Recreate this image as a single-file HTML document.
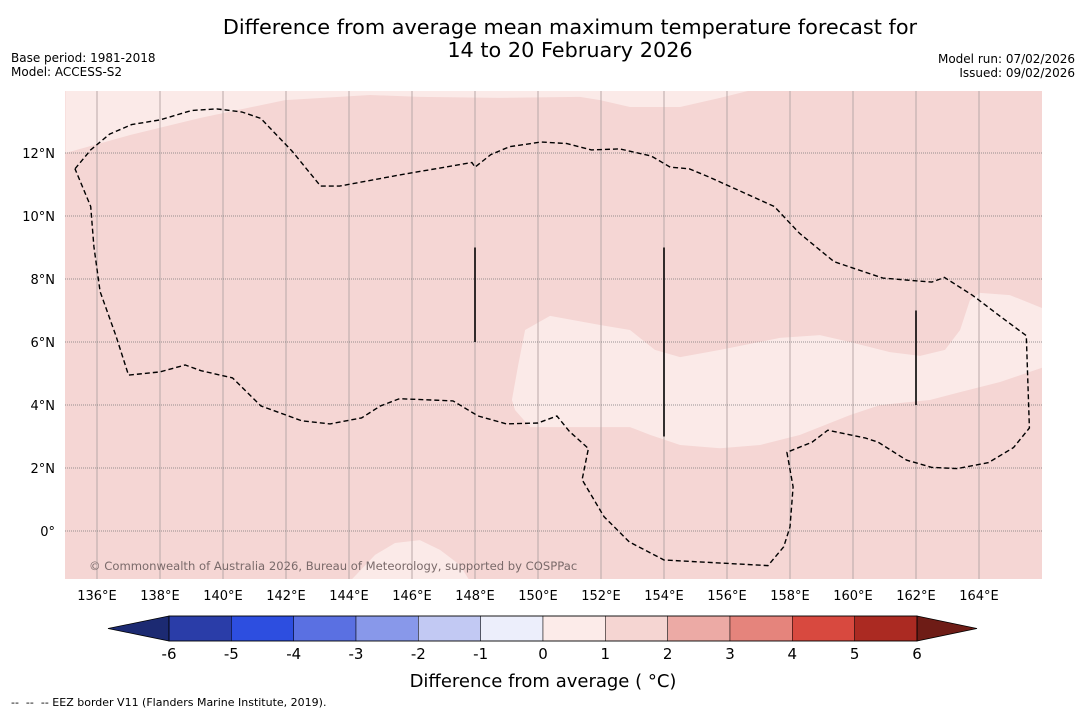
<!DOCTYPE html>
<html><head><meta charset="utf-8">
<style>
html,body{margin:0;padding:0;background:#fff;width:1085px;height:713px;overflow:hidden;font-family:"DejaVu Sans","Liberation Sans",sans-serif;}
svg text{font-family:"DejaVu Sans","Liberation Sans",sans-serif;}
</style></head>
<body>
<svg id="chart" width="1085" height="713" xmlns="http://www.w3.org/2000/svg">
<text x="570" y="34" font-size="20.8" text-anchor="middle">Difference from average mean maximum temperature forecast for</text>
<text x="570" y="57" font-size="20.8" text-anchor="middle">14 to 20 February 2026</text>
<text x="11" y="62" font-size="12">Base period: 1981-2018</text>
<text x="11" y="76" font-size="12">Model: ACCESS-S2</text>
<text x="1075" y="63" font-size="12" text-anchor="end">Model run: 07/02/2026</text>
<text x="1075" y="77" font-size="12" text-anchor="end">Issued: 09/02/2026</text>
<g id="map"></g>
<g id="cbar"></g>
<text x="543" y="687" font-size="18" text-anchor="middle">Difference from average ( °C)</text>
<text x="11" y="706" font-size="11" xml:space="preserve">--  --  -- EEZ border V11 (Flanders Marine Institute, 2019).</text>
</svg>
<script>
const lonTicks=[136,138,140,142,144,146,148,150,152,154,156,158,160,162,164];
const latTicks=[0,2,4,6,8,10,12];
const cbarLevels=[-6,-5,-4,-3,-2,-1,0,1,2,3,4,5,6];
const cbarColors=["#2a3da8","#2d4ee0","#5a70e2","#8898ea","#c2c9f3","#eceefb","#fcebe9","#f5d5d2","#ecaaa5","#e5847c","#d8493f","#ab2a22"];
// contour/border polygons in [lon,lat]
const lightTop=[[135,14],[135,12],[137.05,12.57],[139.27,13.11],[141.97,13.68],[144.67,13.84],[146.25,13.78],[148.79,13.75],[151.33,13.78],[151.97,13.68],[152.92,13.46],[154.51,13.46],[155.78,13.75],[156.79,14]];
const lightMid=[[149.59,6.38],[150.38,6.83],[151.97,6.54],[152.92,6.38],[153.71,5.75],[154.51,5.52],[155.78,5.75],[157.68,6.13],[158.95,6.22],[159.9,6.0],[161.17,5.68],[162.13,5.56],[162.92,5.75],[163.4,6.38],[163.71,7.33],[164.03,7.56],[164.98,7.49],[166.2,7.0],[166.2,5.25],[164.67,4.73],[163.4,4.41],[162.44,4.16],[160.86,4.0],[159.9,3.68],[158.32,3.05],[157.05,2.73],[155.78,2.63],[154.51,2.73],[153.56,3.05],[152.92,3.3],[149.75,3.3],[149.27,3.84],[149.17,4.16],[149.37,5.27]];
const lightBot=[[144.03,-1.6],[144.83,-0.76],[145.46,-0.38],[146.25,-0.29],[146.89,-0.6],[147.52,-1.08],[147.84,-1.6]];
const eez=[[135.3,11.5],[135.8,12.1],[136.4,12.6],[137.1,12.9],[138,13.05],[139,13.35],[139.8,13.4],[140.6,13.3],[141.2,13.1],[142.2,12.05],[143.1,10.95],[143.7,10.95],[145.6,11.3],[147.9,11.7],[148,11.55],[148.5,11.95],[149.1,12.2],[150.1,12.35],[150.9,12.3],[151.7,12.1],[152.6,12.13],[153.6,11.9],[154.2,11.55],[154.8,11.5],[155.4,11.25],[156.4,10.8],[157.5,10.3],[158.3,9.45],[159.4,8.55],[160.95,8.03],[162.5,7.9],[162.9,8.05],[163.8,7.48],[164.6,6.87],[165.5,6.2],[165.6,3.27],[165.1,2.65],[164.3,2.17],[163.3,1.98],[162.5,2.02],[161.7,2.25],[160.8,2.82],[160.4,2.95],[159.2,3.2],[158.7,2.82],[157.9,2.5],[158.1,1.4],[158,0.13],[157.8,-0.5],[157.3,-1.1],[154,-0.92],[152.9,-0.35],[152.1,0.45],[151.4,1.63],[151.6,2.62],[151,3.16],[150.6,3.65],[150,3.43],[149,3.4],[148.1,3.65],[147.3,4.13],[145.6,4.2],[145,3.97],[144.4,3.59],[143.4,3.4],[142.5,3.5],[141.2,3.97],[140.3,4.86],[139.3,5.09],[138.8,5.27],[138,5.05],[137,4.95],[136.6,6.2],[136.1,7.6],[135.9,9.03],[135.8,10.3],[135.3,11.5]];
const vLines=[[148,9,6],[154,9,3],[162,7,4]];

const NS="http://www.w3.org/2000/svg";
const X0=65,X1=1042,Y0=91,Y1=579;
const PX=31.5;
function xs(lon){return 97+(lon-136)*PX;}
function ys(lat){return 531-lat*PX;}
function mk(tag,attrs,parent){const e=document.createElementNS(NS,tag);for(const k in attrs)e.setAttribute(k,attrs[k]);parent.appendChild(e);return e;}
const map=document.getElementById('map');
const defs=mk('defs',{},map);
const cp=mk('clipPath',{id:'clip'},defs);
mk('rect',{x:X0,y:Y0,width:X1-X0,height:Y1-Y0},cp);
const bg=mk('rect',{x:X0,y:Y0,width:X1-X0,height:Y1-Y0,fill:"#f5d6d4"},map);


const g=mk('g',{'clip-path':'url(#clip)'},map);
function poly(pts){return pts.map(p=>xs(p[0]).toFixed(1)+','+ys(p[1]).toFixed(1)).join(' ');}
[[lightTop,'light-anomaly-north'],[lightMid,'light-anomaly-central'],[lightBot,'light-anomaly-south']].forEach(([pts,n])=>{
  const e=mk('polygon',{points:poly(pts),fill:"#fbeae8"},g);
  
  
});
lonTicks.forEach(l=>{
  const e=mk('line',{x1:xs(l),x2:xs(l),y1:Y0,y2:Y1,stroke:"#b8a8a8","stroke-width":1},g);
  
  
  const t=mk('text',{x:xs(l),y:600,'font-size':13,'text-anchor':'middle'},map);
  t.textContent=l+'°E';
  
  
});
latTicks.forEach(l=>{
  const e=mk('line',{x1:X0,x2:X1,y1:ys(l),y2:ys(l),stroke:"#777","stroke-width":0.8,'stroke-dasharray':'1,1'},g);
  
  
  const t=mk('text',{x:55,y:ys(l)+5,'font-size':13,'text-anchor':'end'},map);
  t.textContent=l===0?'0°':l+'°N';
  
  
});
const ez=mk('polyline',{points:poly(eez),fill:'none',stroke:'#000','stroke-width':1.4,'stroke-dasharray':'5,3'},g);


vLines.forEach(v=>{
  const e=mk('line',{x1:xs(v[0]),x2:xs(v[0]),y1:ys(v[1]),y2:ys(v[2]),stroke:'#000','stroke-width':1.6},g);
  
  
});
const cr=mk('text',{x:89,y:570,'font-size':11.6,fill:'#7a6a6a'},g);
cr.textContent='© Commonwealth of Australia 2026, Bureau of Meteorology, supported by COSPPac';



// colorbar
const cb=document.getElementById('cbar');
const CY0=616,CY1=641;
function cx(v){return 543+v*62.33;}
const lt=mk('polygon',{points:`${cx(-6)},${CY0} 108,${(CY0+CY1)/2} ${cx(-6)},${CY1}`,fill:'#1c2a72',stroke:'#000','stroke-width':0.8},cb);


const rt=mk('polygon',{points:`${cx(6)},${CY0} 977,${(CY0+CY1)/2} ${cx(6)},${CY1}`,fill:'#6e1c16',stroke:'#000','stroke-width':0.8},cb);


cbarColors.forEach((c,i)=>{
  const e=mk('rect',{x:cx(cbarLevels[i]),y:CY0,width:cx(cbarLevels[i+1])-cx(cbarLevels[i]),height:CY1-CY0,fill:c,stroke:'#000','stroke-width':0.5},cb);
  
  
});
mk('rect',{x:cx(-6),y:CY0,width:cx(6)-cx(-6),height:CY1-CY0,fill:'none',stroke:'#000','stroke-width':0.8},cb);
cbarLevels.forEach(v=>{
  const t=mk('text',{x:cx(v),y:659,'font-size':15,'text-anchor':'middle'},cb);
  t.textContent=v;
  
  
});
</script>
</body></html>
